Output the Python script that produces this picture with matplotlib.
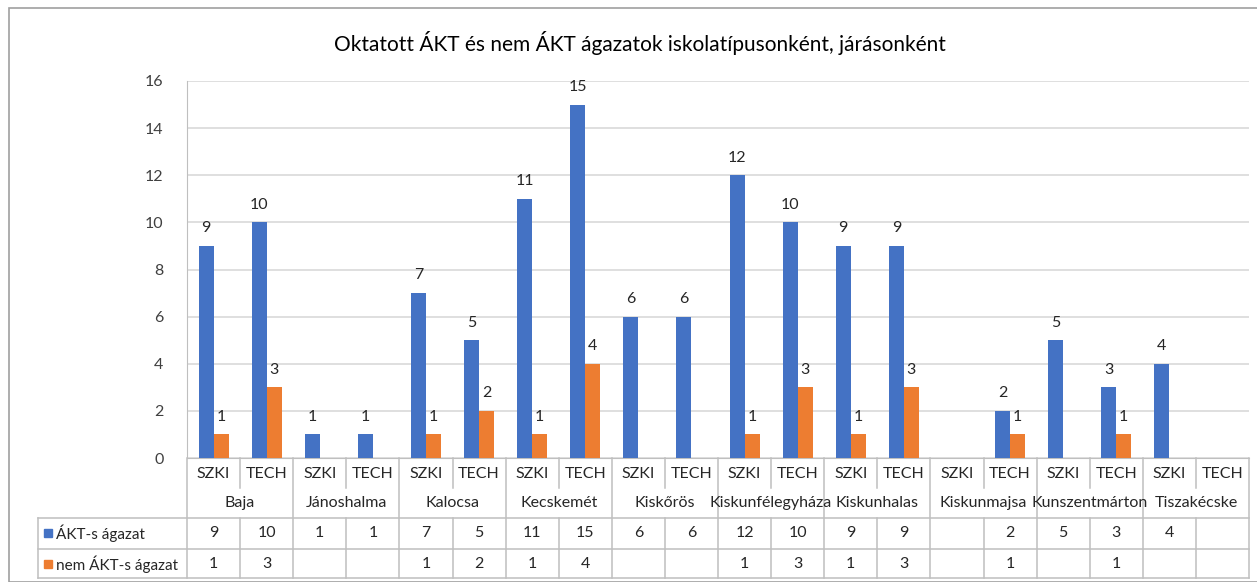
import numpy as np
import matplotlib
matplotlib.use("Agg")
import matplotlib.pyplot as plt
from matplotlib.lines import Line2D
from matplotlib.patches import Rectangle

plt.rcParams["font.family"] = ["Lato", "DejaVu Sans"]

TITLE = "Oktatott ÁKT és nem ÁKT ágazatok iskolatípusonként, járásonként"
districts = ["Baja", "Jánoshalma", "Kalocsa", "Kecskemét", "Kiskőrös",
             "Kiskunfélegyháza", "Kiskunhalas", "Kiskunmajsa",
             "Kunszentmárton", "Tiszakécske"]
school_types = ["SZKI", "TECH"]
akt = [9, 10, 1, 1, 7, 5, 11, 15, 6, 6, 12, 10, 9, 9, None, 2, 5, 3, 4, None]
nem_akt = [1, 3, None, None, 1, 2, 1, 4, None, None, 1, 3, 1, 3, None, 1, None, 1, None, None]
series_names = ["ÁKT-s ágazat", "nem ÁKT-s ágazat"]
colors = ["#4472C4", "#ED7D31"]

W, H = 1257, 582
fig = plt.figure(figsize=(W / 100, H / 100), dpi=100)


def fx(px):
    return px / W


def fy(py):
    return 1 - py / H


LEFT, RIGHT, TOP, BOTTOM = 187, 1249, 81, 458
ax = fig.add_axes([fx(LEFT), fy(BOTTOM), fx(RIGHT) - fx(LEFT), fy(TOP) - fy(BOTTOM)])

n = len(akt)
x = np.arange(n)
bw = 0.283
grid_c = "#D9D9D9"
line_c = "#BFBFBF"
txt_c = "#262626"

for vals, off, c in [(akt, -bw / 2, colors[0]), (nem_akt, bw / 2, colors[1])]:
    for i, v in enumerate(vals):
        if v is None:
            continue
        ax.bar(x[i] + off, v, width=bw, color=c, zorder=3)
        ax.text(x[i] + off, v + 0.45, str(v), ha="center", va="bottom",
                fontsize=11.5, color=txt_c, zorder=4)

ax.set_xlim(-0.5, n - 0.5)
ax.set_ylim(0, 16)
ax.set_yticks(range(0, 17, 2))
ax.yaxis.grid(True, color=grid_c, linewidth=1.2)
ax.set_axisbelow(True)
ax.set_xticks([])
ax.tick_params(axis="y", length=0, labelsize=11.5, labelcolor="#404040", pad=17)
for s in ["top", "right"]:
    ax.spines[s].set_visible(False)
ax.spines["left"].set_color(line_c)
ax.spines["bottom"].set_color(line_c)

# title
fig.text(fx(640), fy(43), TITLE, ha="center", va="center", fontsize=15, color="#000000")

# outer chart border
fig.add_artist(Rectangle((fx(9), fy(582)), 1.2, fy(8) - fy(582), transform=fig.transFigure,
                         fill=False, edgecolor="#A0A0A0", linewidth=1.2))

col_w = (RIGHT - LEFT) / n


def col_x(i):
    return LEFT + i * col_w


def vline(px, y0, y1):
    fig.add_artist(Line2D([fx(px), fx(px)], [fy(y0), fy(y1)], color=line_c, linewidth=1.1))


def hline(py, x0, x1):
    fig.add_artist(Line2D([fx(x0), fx(x1)], [fy(py), fy(py)], color=line_c, linewidth=1.1))


# category axis area
ROW1, ROW2, ROW3 = 518, 549, 578
for i in range(n + 1):
    if i % 2 == 0:
        vline(col_x(i), BOTTOM, ROW3)
    else:
        vline(col_x(i), BOTTOM, 488)
        vline(col_x(i), ROW1, ROW3)
for i in range(n):
    fig.text(fx(col_x(i) + col_w / 2), fy(474), school_types[i % 2], ha="center", va="center",
             fontsize=11.5, color=txt_c)
for g, name in enumerate(districts):
    fig.text(fx(col_x(2 * g) + col_w), fy(503), name, ha="center", va="center",
             fontsize=11.5, color=txt_c)

# data table
hline(ROW1, 38, RIGHT)
hline(ROW2, 38, RIGHT)
hline(ROW3, 38, RIGHT)
vline(38, ROW1, ROW3)
for r, (vals, name, c) in enumerate(zip([akt, nem_akt], series_names, colors)):
    yc = 533 + r * 31
    fig.add_artist(Rectangle((fx(44), fy(yc + 4)), fx(8), fy(yc - 4) - fy(yc + 4),
                             transform=fig.transFigure, color=c))
    fig.text(fx(56), fy(yc), name, ha="left", va="center", fontsize=11, color=txt_c)
    for i, v in enumerate(vals):
        if v is None:
            continue
        fig.text(fx(col_x(i) + col_w / 2), fy(yc), str(v), ha="center", va="center",
                 fontsize=11.5, color=txt_c)

fig.savefig("out.png", dpi=100)
